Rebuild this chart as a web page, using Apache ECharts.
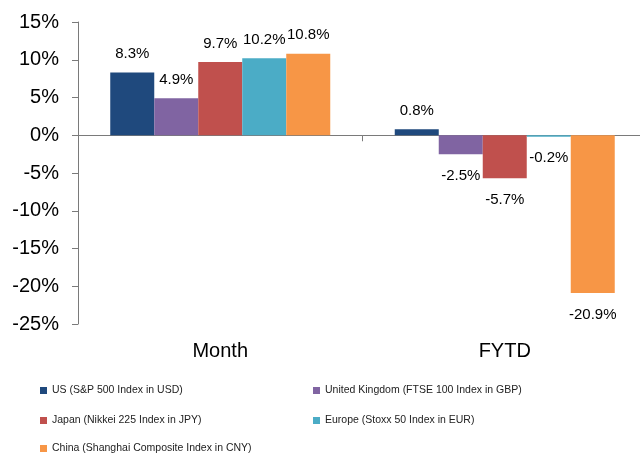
<!DOCTYPE html>
<html><head><meta charset="utf-8">
<script src="https://cdn.jsdelivr.net/npm/echarts@6/dist/echarts.min.js"></script>
<style>html,body{margin:0;padding:0;background:#fff;width:640px;height:454px;overflow:hidden}#c{width:647px;height:454px}</style>
</head><body><div id="c"></div>
<script>
var categories = ['Month', 'FYTD'];
var seriesNames = ['US (S&P 500 Index in USD)', 'United Kingdom (FTSE 100 Index in GBP)', 'Japan (Nikkei 225 Index in JPY)', 'Europe (Stoxx 50 Index in EUR)', 'China (Shanghai Composite Index in CNY)'];
var usValues = [8.3, 0.8];
var ukValues = [4.9, -2.5];
var japanValues = [9.7, -5.7];
var europeValues = [10.2, -0.2];
var chinaValues = [10.8, -20.9];
var yTicks = [-25, -20, -15, -10, -5, 0, 5, 10, 15];
var colors = ['#1F497D', '#8064A2', '#C0504D', '#4BACC6', '#F79646'];

var allValues = [usValues, ukValues, japanValues, europeValues, chinaValues];
var FONT = "'Liberation Sans', Arial, sans-serif";

var series = allValues.map(function (vals, i) {
  return {
    type: 'bar', name: seriesNames[i], xAxisIndex: 0, barWidth: 44, barGap: '0%',
    itemStyle: { color: colors[i] },
    data: vals.map(function (v) {
      return { value: v, label: { position: v < 0 ? 'bottom' : 'top', distance: v < 0 ? 14 : 11 } };
    }),
    label: { show: true, fontSize: 15, fontFamily: FONT, color: '#000', formatter: function (p) { return p.value + '%'; } }
  };
});

var legendPos = [[40, 385], [313, 385], [40, 415], [313, 415], [40, 443]];
var legends = seriesNames.map(function (n, i) {
  return {
    data: [n], left: legendPos[i][0], top: legendPos[i][1], padding: 0,
    icon: 'rect', itemWidth: 7, itemHeight: 7,
    textStyle: { fontSize: 10.5, fontFamily: FONT, color: '#222' }
  };
});

var chart = echarts.init(document.getElementById('c'), null, { renderer: 'canvas' });
chart.setOption({
  animation: false,
  backgroundColor: '#fff',
  color: colors,
  legend: legends,
  grid: { left: 78, top: 22, bottom: 130, right: 0, containLabel: false },
  xAxis: [
    { type: 'category', data: categories, position: 'bottom', axisLine: { show: false, onZero: false },
      axisTick: { show: false }, axisLabel: { fontSize: 20, fontFamily: FONT, color: '#000', margin: 17 } },
    { type: 'category', data: categories, position: 'bottom', axisLine: { show: true, onZero: true, lineStyle: { color: '#7a7a7a', width: 1 } },
      axisTick: { show: true, length: 6, lineStyle: { color: '#7a7a7a' } }, axisLabel: { show: false } }
  ],
  yAxis: {
    type: 'value', min: yTicks[0], max: yTicks[yTicks.length - 1], interval: 5,
    axisLine: { show: true, lineStyle: { color: '#7a7a7a', width: 1 } },
    axisTick: { show: true, length: 6, lineStyle: { color: '#7a7a7a' } },
    splitLine: { show: false },
    axisLabel: { fontSize: 20, fontFamily: FONT, color: '#000', margin: 19, formatter: '{value}%' }
  },
  series: series
});
</script></body></html>
